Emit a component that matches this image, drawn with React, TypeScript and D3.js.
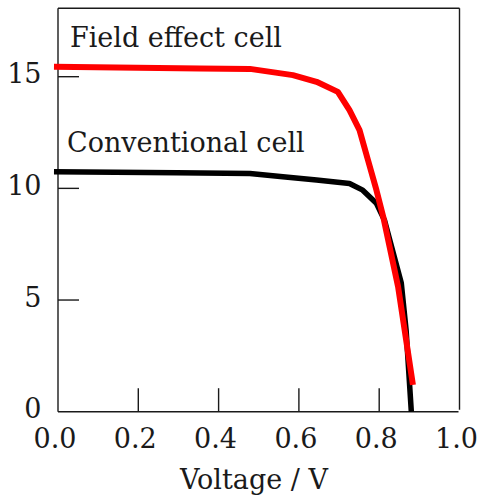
import React from "react";
import * as d3 from "d3";

const xTicks = [0, 0.2, 0.4, 0.6, 0.8, 1.0];
const xTickLabels = ["0.0", "0.2", "0.4", "0.6", "0.8", "1.0"];
const yTicks = [0, 5, 10, 15];
const yTickLabels = ["0", "5", "10", "15"];

const fieldV = [-0.01, 0.353, 0.478, 0.585, 0.644, 0.697, 0.726, 0.751, 0.772, 0.793, 0.81, 0.847, 0.884];
const fieldI = [15.44, 15.37, 15.35, 15.07, 14.77, 14.32, 13.5, 12.61, 11.27, 9.93, 8.73, 5.6, 1.2];

const convV = [-0.01, 0.295, 0.478, 0.56, 0.644, 0.726, 0.759, 0.793, 0.813, 0.855, 0.867, 0.88];
const convI = [10.74, 10.7, 10.67, 10.52, 10.37, 10.22, 9.92, 9.33, 8.58, 5.76, 3.66, 0];

const xLabel = "Voltage / V";
const fieldLabel = "Field effect cell";
const convLabel = "Conventional cell";

const W = 483;
const H = 502;
const FONT = "'DejaVu Serif', serif";

export default function App() {
  const x = d3.scaleLinear().domain([0, 1]).range([58, 459.5]);
  const y = d3.scaleLinear().domain([0, 15]).range([411.7, 76.7]);
  const top = 8.3;

  const line = d3
    .line<[number, number]>()
    .x((d) => x(d[0]))
    .y((d) => y(d[1]))
    .curve(d3.curveLinear);

  const field: [number, number][] = fieldV.map((v, i) => [v, fieldI[i]]);
  const conv: [number, number][] = convV.map((v, i) => [v, convI[i]]);

  const ink = "#1a1a1a";

  return (
    <svg
      width={W}
      height={H}
      style={{ position: "absolute", left: 0, top: 0, background: "#fff" }}
    >
      <rect x={0} y={0} width={W} height={H} fill="#fff" />
      {/* frame */}
      <line x1={x(0)} x2={x(1)} y1={top} y2={top} stroke={ink} strokeWidth={1.4} />
      <line x1={x(0)} x2={x(0)} y1={top} y2={y(0)} stroke={ink} strokeWidth={1.4} />
      <line x1={x(1)} x2={x(1)} y1={top} y2={y(0) - 2} stroke={ink} strokeWidth={1.4} />
      <line x1={x(0)} x2={x(1) - 1} y1={y(0)} y2={y(0)} stroke={ink} strokeWidth={1.4} />
      {/* x ticks */}
      {xTicks.slice(1, 5).map((t) => (
        <line key={"xt" + t} x1={x(t)} x2={x(t)} y1={y(0)} y2={y(0) - 23.5} stroke={ink} strokeWidth={1.4} />
      ))}
      {xTicks.map((t, i) => (
        <text
          key={"xl" + t}
          x={x(t) - 3}
          y={448}
          textAnchor="middle"
          fontFamily={FONT}
          fontSize={27}
          fill={ink}
        >
          {xTickLabels[i]}
        </text>
      ))}
      {/* y ticks */}
      {yTicks.slice(1).map((t) => (
        <line key={"yt" + t} x1={x(0)} x2={x(0) + 21} y1={y(t)} y2={y(t)} stroke={ink} strokeWidth={1.4} />
      ))}
      {yTicks.map((t, i) => (
        <text
          key={"yl" + t}
          x={41.5}
          y={y(t) + 6.5}
          textAnchor="end"
          fontFamily={FONT}
          fontSize={27}
          fill={ink}
        >
          {yTickLabels[i]}
        </text>
      ))}
      <text x={254} y={489} textAnchor="middle" fontFamily={FONT} fontSize={27} fill={ink}>
        {xLabel}
      </text>
      <text x={70} y={47} fontFamily={FONT} fontSize={27} fill={ink}>
        {fieldLabel}
      </text>
      <text x={67} y={152} fontFamily={FONT} fontSize={27} fill={ink}>
        {convLabel}
      </text>
      <path d={line(conv) || ""} fill="none" stroke="#000" strokeWidth={5.5} strokeLinejoin="round" />
      <path d={line(field) || ""} fill="none" stroke="#ff0000" strokeWidth={6} strokeLinejoin="round" />
    </svg>
  );
}
